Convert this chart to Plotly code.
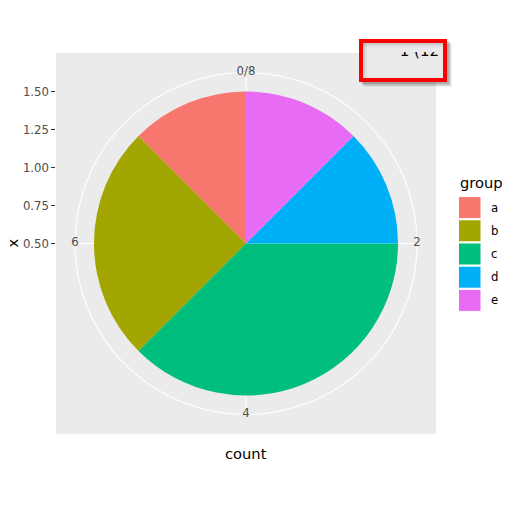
import plotly.graph_objects as go

# ---- data ----
groups = ["a", "b", "c", "d", "e"]
counts = [1, 2, 3, 1, 1]
colors = ["#F8766D", "#A3A500", "#00BF7D", "#00B0F6", "#E76BF3"]
theta_ticks = [0, 2, 4, 6]
theta_labels = ["0/8", "2", "4", "6"]
r_ticks = [0.5, 0.75, 1.0, 1.25, 1.5]
box_text = "1 (12"

W, H = 515, 514
FONT = "DejaVu Sans"
PANEL = "#EBEBEB"
total = sum(counts)


def px(x):
    return x / W


def py(y):
    return (H - y) / H


fig = go.Figure()

# pie slices (ggplot stacks in reverse order of groups)
start = 0
order = list(range(len(groups)))[::-1]
starts = {}
for i in order:
    starts[i] = start
    start += counts[i]
for i, g in enumerate(groups):
    fig.add_trace(go.Barpolar(
        r=[1.0],
        theta=[(starts[i] + counts[i] / 2) / total * 360],
        width=[counts[i] / total * 360],
        marker=dict(color=colors[i], line=dict(width=0)),
        name=g, showlegend=False, hoverinfo="skip",
        subplot="polar",
    ))

# theta labels
fig.add_trace(go.Scatterpolar(
    r=[1.125] * len(theta_ticks),
    theta=[t / total * 360 for t in theta_ticks],
    text=theta_labels, mode="text", textposition="middle center",
    textfont=dict(family=FONT, size=11.7, color="#4D4D4D"),
    cliponaxis=False, showlegend=False, hoverinfo="skip", subplot="polar",
))

# invisible trace to show the cartesian radial axis
fig.add_trace(go.Scatter(x=[None], y=[None], showlegend=False, hoverinfo="skip",
                         xaxis="x", yaxis="y"))

# clipped text in the box
fig.add_trace(go.Scatter(x=[1.0], y=[1.0], mode="text", text=[box_text],
                         textposition="middle left",
                         textfont=dict(family=FONT, size=15, color="black"),
                         cliponaxis=True, showlegend=False, hoverinfo="skip",
                         xaxis="x2", yaxis="y2"))

cx, cy, R = 246, 243.5, 171
shapes = [
    dict(type="rect", xref="paper", yref="paper", x0=px(56), x1=px(436),
         y0=py(434), y1=py(53), fillcolor=PANEL, line=dict(width=0), layer="below"),
]

# shadow of box
for off, op in [(5, 0.06), (4, 0.08), (3, 0.1), (2, 0.12)]:
    shapes.append(dict(type="rect", xref="paper", yref="paper",
                       x0=px(359 + off), x1=px(447 + off), y0=py(82 + off), y1=py(39 + off),
                       fillcolor=f"rgba(0,0,0,{op})", line=dict(width=0), layer="below"))
shapes.append(dict(type="rect", xref="paper", yref="paper",
                   x0=px(361), x1=px(445), y0=py(80), y1=py(41),
                   fillcolor="#EAEAEA", line=dict(width=0), layer="below"))
# inner shadow
for off, op in [(1, 0.12), (3, 0.08), (5, 0.05)]:
    shapes.append(dict(type="rect", xref="paper", yref="paper",
                       x0=px(361), x1=px(361 + off + 1), y0=py(80), y1=py(41),
                       fillcolor=f"rgba(0,0,0,{op})", line=dict(width=0), layer="below"))
    shapes.append(dict(type="rect", xref="paper", yref="paper",
                       x0=px(361), x1=px(445), y0=py(41 + off + 1), y1=py(41),
                       fillcolor=f"rgba(0,0,0,{op})", line=dict(width=0), layer="below"))
shapes.append(dict(type="rect", xref="paper", yref="paper",
                   x0=px(361), x1=px(445), y0=py(80), y1=py(41),
                   fillcolor="rgba(0,0,0,0)", line=dict(color="#FF0000", width=4), layer="above"))

annotations = [
    dict(text="x", x=px(12), y=py(243.5), xref="paper", yref="paper", showarrow=False,
         textangle=-90, font=dict(family=FONT, size=14.7, color="black"),
         xanchor="center", yanchor="middle"),
    dict(text="count", x=px(246), y=py(453), xref="paper", yref="paper", showarrow=False,
         font=dict(family=FONT, size=14.7, color="black"), xanchor="center", yanchor="middle"),
    dict(text="group", x=px(458), y=py(183), xref="paper", yref="paper", showarrow=False,
         font=dict(family=FONT, size=14.7, color="black"), xanchor="left", yanchor="middle"),
]

# legend
key_top, key_step = 196, 23.2
for i, g in enumerate(groups):
    y0 = key_top + i * key_step
    shapes.append(dict(type="rect", xref="paper", yref="paper",
                       x0=px(458.5), x1=px(481), y0=py(y0 + key_step - 0.6), y1=py(y0 + 0.6),
                       fillcolor=colors[i], line=dict(color="white", width=1)))
    annotations.append(dict(text=g, x=px(489), y=py(y0 + key_step / 2), xref="paper", yref="paper",
                            showarrow=False, font=dict(family=FONT, size=11.7, color="black"),
                            xanchor="left", yanchor="middle"))

ppu = 151.7
fig.update_layout(
    width=W, height=H, margin=dict(l=0, r=0, t=0, b=0),
    paper_bgcolor="white", plot_bgcolor="rgba(0,0,0,0)",
    showlegend=False,
    polar=dict(
        domain=dict(x=[px(cx - R), px(cx + R)], y=[py(cy + R), py(cy - R)]),
        bgcolor=PANEL, bargap=0,
        radialaxis=dict(visible=False, range=[0, 1.125], showgrid=False),
        angularaxis=dict(rotation=90, direction="clockwise", thetaunit="degrees",
                         tickvals=[t / total * 360 for t in theta_ticks],
                         showticklabels=False, ticks="", showgrid=True, gridcolor="white",
                         gridwidth=1.1, showline=True, linecolor="white", linewidth=1.1,
                         layer="below traces"),
    ),
    xaxis=dict(domain=[px(56), px(436)], range=[0, 1], visible=False, fixedrange=True),
    yaxis=dict(domain=[py(434), py(53)],
               range=[0.5 - (434 - 243.4) / ppu, 0.5 + (243.4 - 53) / ppu],
               tickvals=r_ticks, ticktext=[f"{v:.2f}" for v in r_ticks],
               ticks="outside", ticklen=3.7, tickwidth=1.1, tickcolor="#333333",
               tickfont=dict(family=FONT, size=11.7, color="#4D4D4D"),
               showgrid=False, zeroline=False, showline=False, anchor="x"),
    xaxis2=dict(domain=[px(363), px(439)], range=[0, 1], visible=False, anchor="y2"),
    yaxis2=dict(domain=[py(80), py(52)], range=[0, 1], visible=False, anchor="x2"),
    shapes=shapes, annotations=annotations,
)

fig.write_html("out.html")
